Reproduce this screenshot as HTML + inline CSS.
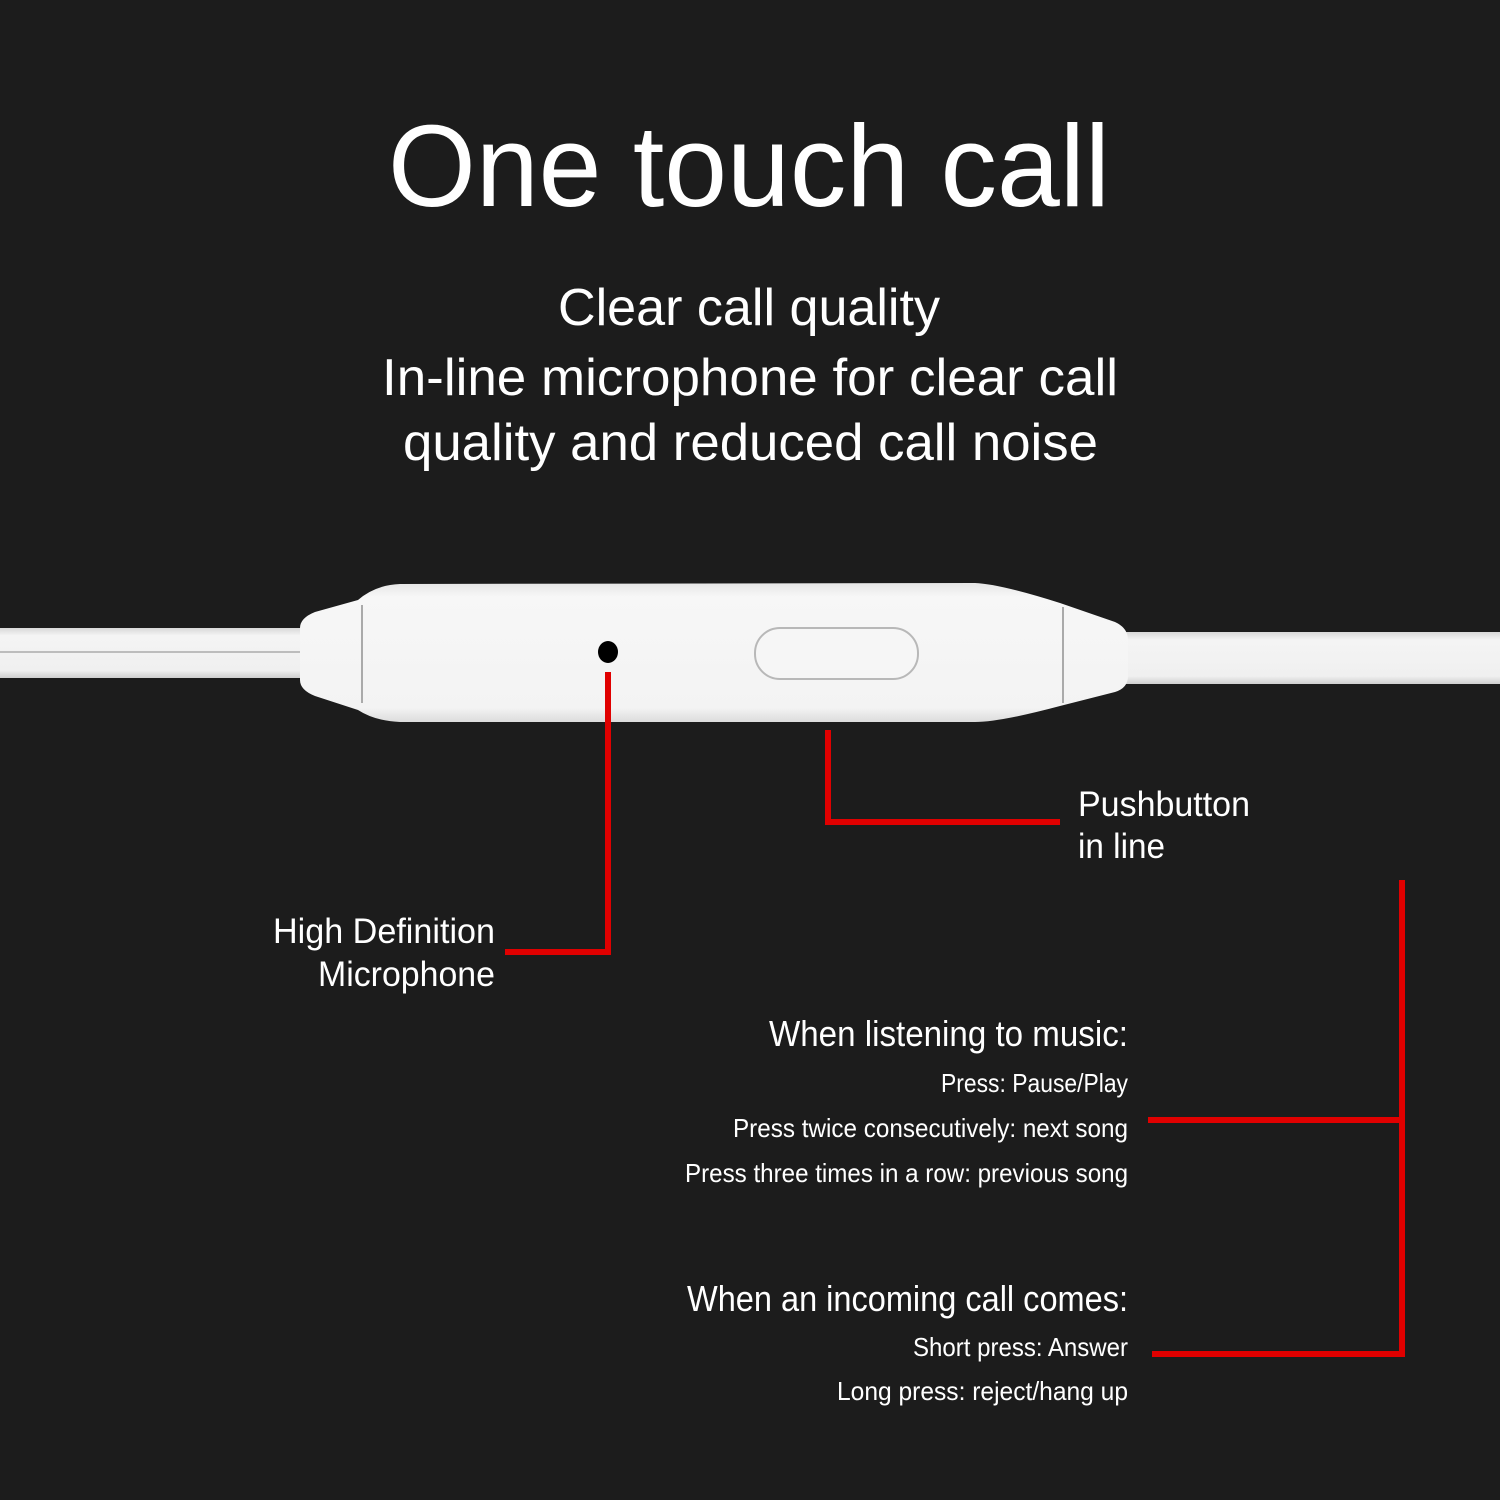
<!DOCTYPE html>
<html><head><meta charset="utf-8"><style>
html,body{margin:0;padding:0;background:#1c1c1c;}
svg{display:block}
text{font-family:"Liberation Sans",sans-serif;fill:#fff;}
</style></head><body>
<svg width="1500" height="1500" viewBox="0 0 1500 1500" xmlns="http://www.w3.org/2000/svg">
<rect width="1500" height="1500" fill="#1c1c1c"/>
<defs>
<linearGradient id="cab" x1="0" y1="0" x2="0" y2="1">
<stop offset="0" stop-color="#d8d8d8"/><stop offset="0.15" stop-color="#f4f4f4"/><stop offset="0.85" stop-color="#f0f0f0"/><stop offset="1" stop-color="#cfcfcf"/>
</linearGradient>
<linearGradient id="body" x1="0" y1="0" x2="0" y2="1">
<stop offset="0" stop-color="#e6e6e6"/><stop offset="0.1" stop-color="#f7f7f7"/><stop offset="0.9" stop-color="#f3f3f3"/><stop offset="1" stop-color="#dcdcdc"/>
</linearGradient>
</defs>
<!-- cables -->
<rect x="0" y="628" width="310" height="50" fill="url(#cab)"/>
<line x1="0" y1="652" x2="305" y2="652" stroke="#bdbdbd" stroke-width="2"/>
<rect x="1115" y="632" width="385" height="52" fill="url(#cab)"/>
<!-- remote body -->
<path d="M300,628 Q300,618 315,612 L358,600 Q375,585 400,584 L975,583 Q1000,584 1060,603 L1115,622 Q1128,628 1128,640 L1128,676 Q1128,688 1115,692 L1060,706 Q1000,722 975,722 L400,722 Q375,721 358,710 L315,696 Q300,690 300,680 Z" fill="url(#body)"/>
<line x1="362" y1="605" x2="362" y2="703" stroke="#aaa" stroke-width="2"/>
<line x1="1063" y1="607" x2="1063" y2="703" stroke="#aaa" stroke-width="2"/>
<ellipse cx="608" cy="652" rx="10" ry="11" fill="#000"/>
<rect x="755" y="628" width="163" height="51" rx="25" fill="#f6f6f6" stroke="#b8b8b8" stroke-width="2"/>
<!-- red lines -->
<g stroke="#e00000" stroke-width="6" fill="none">
<polyline points="608,672 608,952 505,952"/>
<polyline points="828,730 828,822 1060,822"/>
<line x1="1402" y1="880" x2="1402" y2="1357"/>
<line x1="1148" y1="1120" x2="1402" y2="1120"/>
<line x1="1152" y1="1354" x2="1402" y2="1354"/>
</g>
<!-- text -->
<text x="388" y="206" font-size="116" textLength="722" lengthAdjust="spacingAndGlyphs">One touch call</text>
<text x="558" y="325" font-size="52" textLength="382" lengthAdjust="spacingAndGlyphs">Clear call quality</text>
<text x="382" y="395" font-size="52" textLength="736" lengthAdjust="spacingAndGlyphs">In-line microphone for clear call</text>
<text x="403" y="460" font-size="52" textLength="695" lengthAdjust="spacingAndGlyphs">quality and reduced call noise</text>
<text x="1078" y="816" font-size="35" textLength="172" lengthAdjust="spacingAndGlyphs">Pushbutton</text>
<text x="1078" y="858" font-size="35" textLength="87" lengthAdjust="spacingAndGlyphs">in line</text>
<text x="273" y="943" font-size="35" textLength="222" lengthAdjust="spacingAndGlyphs">High Definition</text>
<text x="318" y="986" font-size="35" textLength="177" lengthAdjust="spacingAndGlyphs">Microphone</text>
<text x="769" y="1046" font-size="36" textLength="359" lengthAdjust="spacingAndGlyphs">When listening to music:</text>
<text x="941" y="1092" font-size="26" textLength="187" lengthAdjust="spacingAndGlyphs">Press: Pause/Play</text>
<text x="733" y="1137" font-size="26" textLength="395" lengthAdjust="spacingAndGlyphs">Press twice consecutively: next song</text>
<text x="685" y="1182" font-size="26" textLength="443" lengthAdjust="spacingAndGlyphs">Press three times in a row: previous song</text>
<text x="687" y="1311" font-size="36" textLength="441" lengthAdjust="spacingAndGlyphs">When an incoming call comes:</text>
<text x="913" y="1356" font-size="26" textLength="215" lengthAdjust="spacingAndGlyphs">Short press: Answer</text>
<text x="837" y="1400" font-size="26" textLength="291" lengthAdjust="spacingAndGlyphs">Long press: reject/hang up</text>
</svg>
</body></html>
